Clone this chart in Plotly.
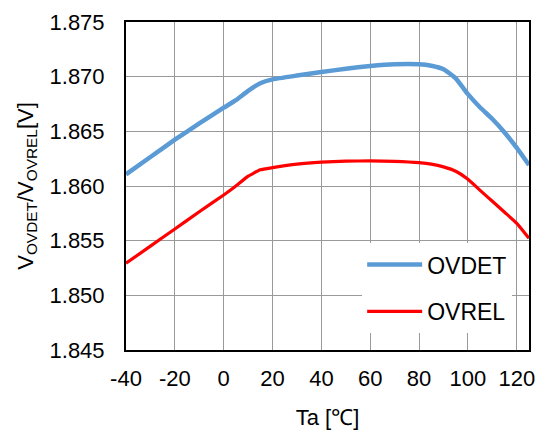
import plotly.graph_objects as go

temps = [-40, -30, -20, -10, 0, 5, 10, 15, 20, 30, 40, 50, 60, 70, 80, 85, 90, 95, 100, 105, 110, 115, 120, 125]
ovdet = [1.86107, 1.86265, 1.86424, 1.86572, 1.86716, 1.86785, 1.86870, 1.86940, 1.86975, 1.87010,
         1.87042, 1.87073, 1.87097, 1.87113, 1.87113, 1.87100, 1.87068, 1.86985, 1.86840, 1.86718,
         1.86613, 1.86490, 1.86348, 1.86192]
ovrel = [1.85293, 1.85450, 1.85607, 1.85765, 1.85918, 1.86000, 1.86090, 1.86148, 1.86168, 1.86200,
         1.86218, 1.86227, 1.86230, 1.86225, 1.86213, 1.86200, 1.86175, 1.86135, 1.86061, 1.85960,
         1.85860, 1.85760, 1.85659, 1.85522]
x_ticks = [-40, -20, 0, 20, 40, 60, 80, 100, 120]
y_ticks = [1.845, 1.850, 1.855, 1.860, 1.865, 1.870, 1.875]

FONT = "Liberation Sans, Arial, sans-serif"

fig = go.Figure()
fig.add_trace(go.Scatter(x=temps, y=ovdet, mode="lines", name="OVDET", legendgroup="a",
                         line=dict(color="#5B9BD5", width=4.5, shape="spline", smoothing=0.4)))
fig.add_trace(go.Scatter(x=temps, y=ovrel, mode="lines", name="OVREL", legendgroup="b",
                         line=dict(color="#FF0000", width=3.2, shape="spline", smoothing=0.4)))

fig.update_layout(
    width=540, height=430,
    margin=dict(l=126, r=11, t=22, b=80, autoexpand=False),
    paper_bgcolor="white", plot_bgcolor="white",
    font=dict(family=FONT, size=22, color="black"),
    showlegend=True,
    legend=dict(x=0.586, y=0.326, xanchor="left", yanchor="top",
                bgcolor="white", borderwidth=0, font=dict(size=23, color="black"),
                tracegroupgap=14, itemwidth=55),
    xaxis=dict(range=[-40, 125], tickvals=x_ticks, ticktext=[str(v) for v in x_ticks],
               showgrid=True, gridcolor="#9a9a9a", gridwidth=1,
               showline=True, linecolor="black", linewidth=2, mirror=True,
               ticks="", ticklabelstandoff=8, zeroline=False, automargin=False,
               title=dict(text="Ta [℃]", font=dict(size=22), standoff=24)),
    yaxis=dict(range=[1.845, 1.875], tickvals=y_ticks, ticktext=[f"{v:.3f}" for v in y_ticks],
               showgrid=True, gridcolor="#9a9a9a", gridwidth=1,
               showline=True, linecolor="black", linewidth=2, mirror=True,
               ticks="", ticklabelstandoff=15, zeroline=False, automargin=False,
               title=dict(text="V<sub>OVDET</sub>/V<sub>OVREL</sub>[V]", font=dict(size=22), standoff=10)),
)

fig.write_html("out.html", config={"displayModeBar": False},
               post_script="document.body.style.margin='0';document.body.style.padding='0';")
